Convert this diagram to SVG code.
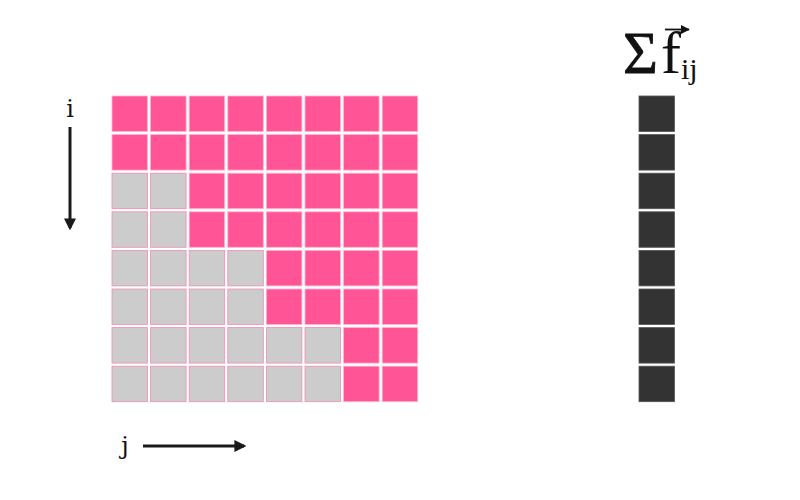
<svg xmlns="http://www.w3.org/2000/svg" width="800" height="500" viewBox="0 0 800 500">
<style>
.p{fill:#ff5596;stroke:#ffb3cf;stroke-width:0.8}
.g{fill:#cccccc;stroke:#f08cb4;stroke-width:0.8}
.d{fill:#333333;stroke:#555;stroke-width:0.8}
.lbl{font-family:"DejaVu Serif","Liberation Serif",serif;fill:#111}
.math{font-family:"Liberation Serif","Times New Roman",serif;fill:#111}
.ax{stroke:#1a1a1a;stroke-width:3;fill:none}
</style>
<defs>
<marker id="ah" viewBox="0 0 10 10" refX="8" refY="5" markerWidth="4" markerHeight="4" orient="auto" markerUnits="strokeWidth">
<path d="M0,0 L10,5 L0,10 z" fill="#1a1a1a"/>
</marker>
<marker id="va" viewBox="0 0 10 10" refX="9" refY="5" markerWidth="5" markerHeight="5" orient="auto" markerUnits="strokeWidth">
<path d="M0,0 L10,5 L0,10 z" fill="#111"/>
</marker>
</defs>
<g id="matrix">
<g id="row0">
<rect class="p" x="112" y="96" width="35.5" height="35.5"/><rect class="p" x="150.6" y="96" width="35.5" height="35.5"/><rect class="p" x="189.2" y="96" width="35.5" height="35.5"/><rect class="p" x="227.8" y="96" width="35.5" height="35.5"/><rect class="p" x="266.4" y="96" width="35.5" height="35.5"/><rect class="p" x="305" y="96" width="35.5" height="35.5"/><rect class="p" x="343.6" y="96" width="35.5" height="35.5"/><rect class="p" x="382.2" y="96" width="35.5" height="35.5"/>
</g>
<g id="row1">
<rect class="p" x="112" y="134.6" width="35.5" height="35.5"/><rect class="p" x="150.6" y="134.6" width="35.5" height="35.5"/><rect class="p" x="189.2" y="134.6" width="35.5" height="35.5"/><rect class="p" x="227.8" y="134.6" width="35.5" height="35.5"/><rect class="p" x="266.4" y="134.6" width="35.5" height="35.5"/><rect class="p" x="305" y="134.6" width="35.5" height="35.5"/><rect class="p" x="343.6" y="134.6" width="35.5" height="35.5"/><rect class="p" x="382.2" y="134.6" width="35.5" height="35.5"/>
</g>
<g id="row2">
<rect class="g" x="112" y="173.2" width="35.5" height="35.5"/><rect class="g" x="150.6" y="173.2" width="35.5" height="35.5"/><rect class="p" x="189.2" y="173.2" width="35.5" height="35.5"/><rect class="p" x="227.8" y="173.2" width="35.5" height="35.5"/><rect class="p" x="266.4" y="173.2" width="35.5" height="35.5"/><rect class="p" x="305" y="173.2" width="35.5" height="35.5"/><rect class="p" x="343.6" y="173.2" width="35.5" height="35.5"/><rect class="p" x="382.2" y="173.2" width="35.5" height="35.5"/>
</g>
<g id="row3">
<rect class="g" x="112" y="211.8" width="35.5" height="35.5"/><rect class="g" x="150.6" y="211.8" width="35.5" height="35.5"/><rect class="p" x="189.2" y="211.8" width="35.5" height="35.5"/><rect class="p" x="227.8" y="211.8" width="35.5" height="35.5"/><rect class="p" x="266.4" y="211.8" width="35.5" height="35.5"/><rect class="p" x="305" y="211.8" width="35.5" height="35.5"/><rect class="p" x="343.6" y="211.8" width="35.5" height="35.5"/><rect class="p" x="382.2" y="211.8" width="35.5" height="35.5"/>
</g>
<g id="row4">
<rect class="g" x="112" y="250.4" width="35.5" height="35.5"/><rect class="g" x="150.6" y="250.4" width="35.5" height="35.5"/><rect class="g" x="189.2" y="250.4" width="35.5" height="35.5"/><rect class="g" x="227.8" y="250.4" width="35.5" height="35.5"/><rect class="p" x="266.4" y="250.4" width="35.5" height="35.5"/><rect class="p" x="305" y="250.4" width="35.5" height="35.5"/><rect class="p" x="343.6" y="250.4" width="35.5" height="35.5"/><rect class="p" x="382.2" y="250.4" width="35.5" height="35.5"/>
</g>
<g id="row5">
<rect class="g" x="112" y="289" width="35.5" height="35.5"/><rect class="g" x="150.6" y="289" width="35.5" height="35.5"/><rect class="g" x="189.2" y="289" width="35.5" height="35.5"/><rect class="g" x="227.8" y="289" width="35.5" height="35.5"/><rect class="p" x="266.4" y="289" width="35.5" height="35.5"/><rect class="p" x="305" y="289" width="35.5" height="35.5"/><rect class="p" x="343.6" y="289" width="35.5" height="35.5"/><rect class="p" x="382.2" y="289" width="35.5" height="35.5"/>
</g>
<g id="row6">
<rect class="g" x="112" y="327.6" width="35.5" height="35.5"/><rect class="g" x="150.6" y="327.6" width="35.5" height="35.5"/><rect class="g" x="189.2" y="327.6" width="35.5" height="35.5"/><rect class="g" x="227.8" y="327.6" width="35.5" height="35.5"/><rect class="g" x="266.4" y="327.6" width="35.5" height="35.5"/><rect class="g" x="305" y="327.6" width="35.5" height="35.5"/><rect class="p" x="343.6" y="327.6" width="35.5" height="35.5"/><rect class="p" x="382.2" y="327.6" width="35.5" height="35.5"/>
</g>
<g id="row7">
<rect class="g" x="112" y="366.2" width="35.5" height="35.5"/><rect class="g" x="150.6" y="366.2" width="35.5" height="35.5"/><rect class="g" x="189.2" y="366.2" width="35.5" height="35.5"/><rect class="g" x="227.8" y="366.2" width="35.5" height="35.5"/><rect class="g" x="266.4" y="366.2" width="35.5" height="35.5"/><rect class="g" x="305" y="366.2" width="35.5" height="35.5"/><rect class="p" x="343.6" y="366.2" width="35.5" height="35.5"/><rect class="p" x="382.2" y="366.2" width="35.5" height="35.5"/>
</g>
</g>
<g id="sumvector">
<rect class="d" x="639" y="96" width="35.5" height="35.5"/><rect class="d" x="639" y="134.6" width="35.5" height="35.5"/><rect class="d" x="639" y="173.2" width="35.5" height="35.5"/><rect class="d" x="639" y="211.8" width="35.5" height="35.5"/><rect class="d" x="639" y="250.4" width="35.5" height="35.5"/><rect class="d" x="639" y="289" width="35.5" height="35.5"/><rect class="d" x="639" y="327.6" width="35.5" height="35.5"/><rect class="d" x="639" y="366.2" width="35.5" height="35.5"/>
</g>
<g id="sumlabel">
<text class="math" x="623" y="73" font-size="60" stroke="#111" stroke-width="0.8">Σ</text>
<text class="math" x="661" y="73" font-size="60">f</text>
<text class="math" x="681" y="79" font-size="30">ij</text>
<line x1="665" y1="29.5" x2="689" y2="29.5" stroke="#111" stroke-width="1.8" marker-end="url(#va)"/>
</g>
<g id="axes">
<text class="lbl" x="70" y="117" font-size="24" text-anchor="middle">i</text>
<line class="ax" x1="70" y1="127" x2="70" y2="228" marker-end="url(#ah)"/>
<text class="lbl" x="125" y="454" font-size="24" text-anchor="middle">j</text>
<line class="ax" x1="143" y1="446" x2="244" y2="446" marker-end="url(#ah)"/>
</g>
</svg>
